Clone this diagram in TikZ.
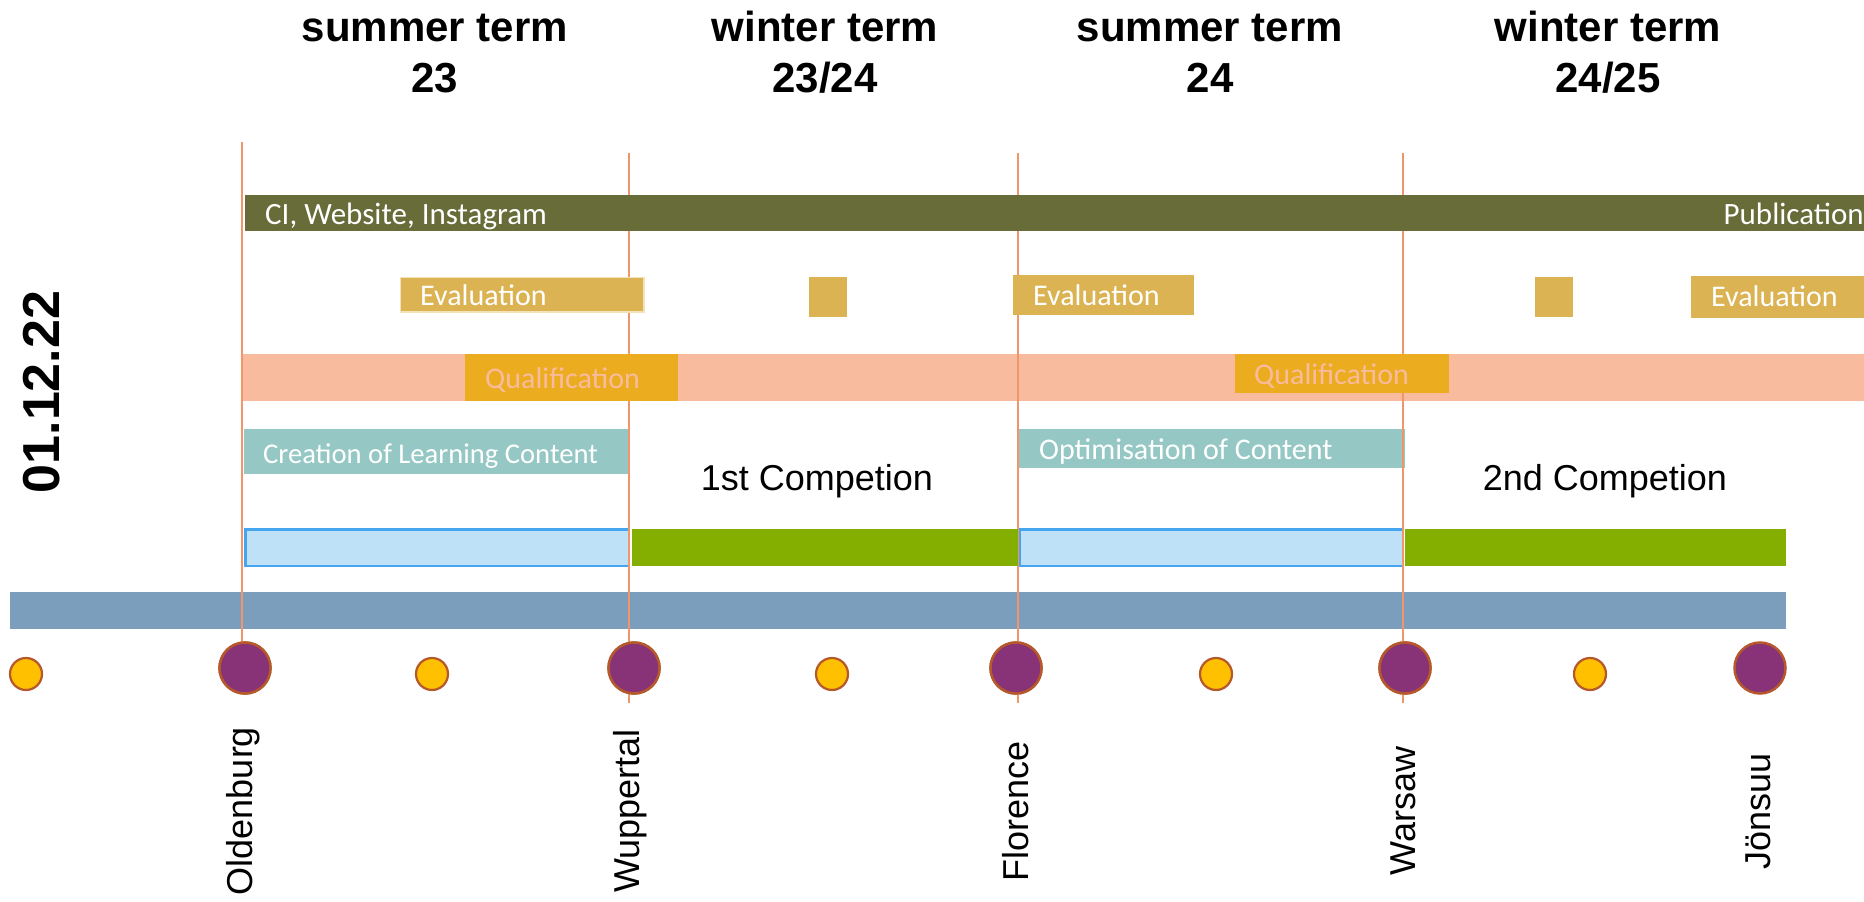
\documentclass[tikz,border=0pt]{standalone}
\usepackage{fontspec}
\setmainfont{Liberation Sans}
\newfontfamily\lblfont{Carlito}
\definecolor{olive}{HTML}{686C39}
\definecolor{evalc}{HTML}{DBB352}
\definecolor{evalb}{HTML}{F3E2B5}
\definecolor{qualc}{HTML}{EBAD1F}
\definecolor{salmon}{HTML}{F9BB9D}
\definecolor{tealc}{HTML}{95C8C4}
\definecolor{lblue}{HTML}{BEE1F8}
\definecolor{lbluebd}{HTML}{45A5EF}
\definecolor{greenc}{HTML}{84AF00}
\definecolor{grayblue}{HTML}{7A9EBC}
\definecolor{purplec}{HTML}{883277}
\definecolor{yellowc}{HTML}{FFC000}
\definecolor{ringc}{HTML}{B5582A}
\definecolor{linec}{HTML}{F2956B}
\tikzset{
  header/.style={font=\fontsize{42}{50}\selectfont\bfseries, anchor=base, inner sep=0pt},
  datelbl/.style={font=\fontsize{52}{60}\selectfont\bfseries, anchor=base, rotate=90, inner sep=0pt},
  city/.style={font=\fontsize{36}{42}\selectfont, anchor=center, rotate=90, inner sep=0pt},
  comp/.style={font=\fontsize{36}{42}\selectfont, anchor=base, inner sep=0pt},
  barlbl/.style={font=\lblfont\fontsize{30}{36}\selectfont, anchor=base west, inner sep=0pt, text=white},
  quallbl/.style={barlbl, text=salmon},
  vline/.style={draw=linec, line width=1.8pt},
  bigdot/.style={circle, fill=purplec, draw=ringc, line width=2.5pt, minimum size=51pt, inner sep=0pt},
  smalldot/.style={circle, fill=yellowc, draw=ringc, line width=2.2pt, minimum size=32pt, inner sep=0pt},
}
\begin{document}
\begin{tikzpicture}[x=1pt,y=-1pt]
\useasboundingbox (0,0) rectangle (1864,902);
\fill[white] (0,0) rectangle (1864,902);
% headers
\node[header] (h1a) at (435,41) {summer term};
\node[header] (h1b) at (435,92) {23};
\node[header] (h2a) at (825,41) {winter term};
\node[header] (h2b) at (825,92) {23/24};
\node[header] (h3a) at (1210,41) {summer term};
\node[header] (h3b) at (1210,92) {24};
\node[header] (h4a) at (1608,41) {winter term};
\node[header] (h4b) at (1608,92) {24/25};
% date
\node[datelbl] (date) at (59,392) {01.12.22};
% background bars
\fill[salmon] (241,354) rectangle (1864,401);
\fill[grayblue] (10,592) rectangle (1786,629);
\fill[tealc] (244,429) rectangle (628,474);
\fill[tealc] (1019,429) rectangle (1405,468);
\path[fill=lblue, draw=lbluebd, line width=2.8pt] (245.5,529.5) rectangle (629,566);
\path[fill=lblue, draw=lbluebd, line width=2.8pt] (1019.5,529.5) rectangle (1403,566);
% circles (named) for line ends
\node[bigdot] (cOld) at (245,668) {};
\node[bigdot] (cWup) at (634,668) {};
\node[bigdot] (cFlo) at (1016,668) {};
\node[bigdot] (cWar) at (1405,668) {};
\node[bigdot] (cJoe) at (1760,668) {};
\node[smalldot] (s1) at (26,674) {};
\node[smalldot] (s2) at (432,674) {};
\node[smalldot] (s3) at (832,674) {};
\node[smalldot] (s4) at (1216,674) {};
\node[smalldot] (s5) at (1590,674) {};
% vertical lines
\coordinate (tOld) at (242,142);
\coordinate (bOld) at (242,642);
\coordinate (tWup) at (629,153);
\coordinate (bWup) at (629,703);
\coordinate (tFlo) at (1018,153);
\coordinate (bFlo) at (1018,703);
\coordinate (tWar) at (1403,153);
\coordinate (bWar) at (1403,703);
\draw[vline] (tOld) -- (bOld);
\draw[vline] (tWup) -- (bWup);
\draw[vline] (tFlo) -- (bFlo);
\draw[vline] (tWar) -- (bWar);
% foreground bars
\fill[olive] (245,195) rectangle (1864,231);
\path[fill=evalc, draw=evalb, line width=1.2pt] (400.5,277.5) rectangle (644,312);
\fill[evalc] (809,277) rectangle (847,317);
\fill[evalc] (1013,275) rectangle (1194,315);
\fill[evalc] (1535,277) rectangle (1573,317);
\fill[evalc] (1691,276) rectangle (1864,318);
\fill[qualc] (465,354) rectangle (678,401);
\fill[qualc] (1235,354) rectangle (1449,393);
\fill[greenc] (631.5,529) rectangle (1018,566);
\fill[greenc] (1404.5,529) rectangle (1786,566);
% redraw circles on top
\node[bigdot] at (cOld) {};
\node[bigdot] at (cWup) {};
\node[bigdot] at (cFlo) {};
\node[bigdot] at (cWar) {};
% bar labels
\node[barlbl, font=\lblfont\fontsize{31}{36}\selectfont] (lCI) at (265,224) {CI, Website, Instagram};
\node[barlbl, font=\lblfont\fontsize{31}{36}\selectfont, anchor=base east] (lPub) at (1864,224) {Publication};
\node[barlbl] (lEv1) at (420,305) {Evaluation};
\node[barlbl] (lEv2) at (1033,305) {Evaluation};
\node[barlbl] (lEv3) at (1711,306) {Evaluation};
\node[quallbl] (lQ1) at (485,388) {Qualification};
\node[quallbl] (lQ2) at (1254,384) {Qualification};
\node[barlbl, font=\lblfont\fontsize{28.6}{34}\selectfont] (lCr) at (263,463) {Creation of Learning Content};
\node[barlbl] (lOp) at (1039,459) {Optimisation of Content};
% competitions
\node[comp] (c1) at (817,490) {1st Competion};
\node[comp] (c2) at (1605,490) {2nd Competion};
% cities
\node[city] (nOld) at (243,811) {Oldenburg};
\node[city] (nWup) at (630,811) {Wuppertal};
\node[city] (nFlo) at (1016,811) {Florence};
\node[city] (nWar) at (1403,811) {Warsaw};
\node[city] (nJoe) at (1758,811) {Jönsuu};
\end{tikzpicture}
\end{document}
